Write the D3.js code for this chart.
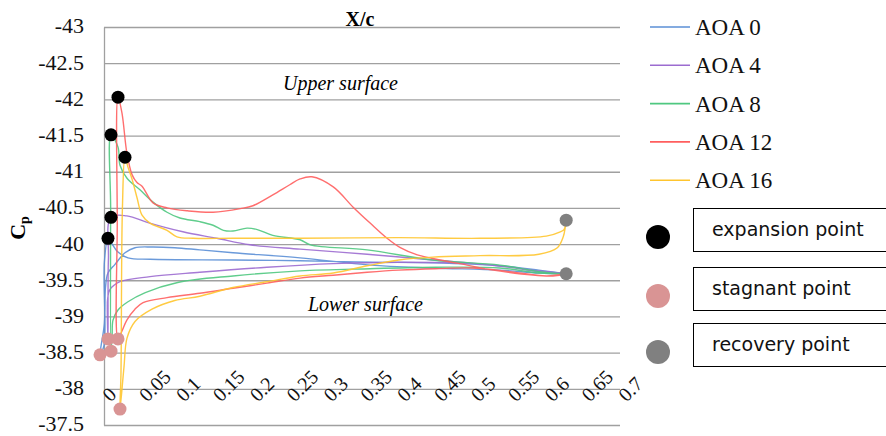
<!DOCTYPE html>
<html>
<meta charset="utf-8">
<title>Cp vs X/c</title>
<style>
	body {
		margin: 0;
		background: #fff;
	}

	.grid line {
		stroke: #a0a0a0;
		stroke-width: 1.3px;
	}

	.grid path {
		stroke: #a0a0a0;
		stroke-width: 1.3px;
	}

	.ytick text {
		font: 22px "Liberation Serif", serif;
		fill: #111;
	}

	.xtick text {
		font: 20px "Liberation Serif", serif;
		fill: #111;
	}

	.curve {
		fill: none;
		stroke-width: 1.4px;
		stroke-opacity: .9;
	}

	.legend text {
		font: 23px "Liberation Serif", serif;
		fill: #111;
	}

	.keybox text {
		font: 19px "DejaVu Sans", sans-serif;
		fill: #111;
	}
</style>

<body>
	<script src="https://cdnjs.cloudflare.com/ajax/libs/d3/7.8.5/d3.min.js"></script>

	<script>
		// values: [x/c, Cp]
		var aoaNames = ["AOA 0", "AOA 4", "AOA 8", "AOA 12", "AOA 16"];

		var aoa0 = [
			[0.627, -39.59], [0.59, -39.64], [0.537, -39.70], [0.446, -39.74], [0.361, -39.75],
			[0.266, -39.77], [0.175, -39.78], [0.0624, -39.79], [0.0326, -39.81], [0.019, -39.89],
			[0.008, -40.05], [0.0054, -40.08], [0.0005, -39.75], [0.0, -38.6], [-0.0054, -38.47],
			[0.0005, -38.9], [0.002, -39.4], [0.0054, -39.6], [0.0149, -39.72], [0.0285, -39.88],
			[0.042, -39.95], [0.065, -39.96], [0.096, -39.95], [0.13, -39.92], [0.175, -39.88],
			[0.266, -39.81], [0.361, -39.71], [0.446, -39.67], [0.537, -39.64], [0.59, -39.6],
			[0.627, -39.59]
		];

		var aoa4 = [
			[0.627, -39.59], [0.59, -39.62], [0.537, -39.70], [0.446, -39.78], [0.357, -39.86],
			[0.266, -39.93], [0.198, -39.99], [0.153, -40.08], [0.107, -40.17], [0.062, -40.29],
			[0.031, -40.39], [0.0095, -40.37], [0.006, -39.8], [0.0054, -38.69], [0.0045, -39.1],
			[0.005, -39.25], [0.008, -39.37], [0.0217, -39.48], [0.0624, -39.55], [0.13, -39.61],
			[0.221, -39.68], [0.311, -39.73], [0.40, -39.75], [0.5, -39.73], [0.59, -39.63],
			[0.627, -39.59]
		];

		var aoa8 = [
			[0.627, -39.59], [0.59, -39.62], [0.537, -39.71], [0.446, -39.78], [0.357, -39.92],
			[0.28, -39.99], [0.266, -40.06], [0.229, -40.12], [0.208, -40.20], [0.194, -40.22],
			[0.175, -40.18], [0.162, -40.19], [0.148, -40.26], [0.130, -40.31], [0.103, -40.36],
			[0.0855, -40.44], [0.0665, -40.58], [0.0488, -40.75], [0.0312, -40.91], [0.0217, -41.09],
			[0.019, -41.34], [0.0095, -41.51], [0.009, -40.5], [0.0095, -38.52], [0.011, -38.75],
			[0.0122, -38.95], [0.019, -39.09], [0.032, -39.2], [0.056, -39.33], [0.1, -39.47],
			[0.175, -39.56], [0.266, -39.63], [0.361, -39.66], [0.45, -39.68], [0.537, -39.67],
			[0.59, -39.6], [0.627, -39.59]
		];

		var aoa12 = [
			[0.627, -39.59], [0.609, -39.56], [0.528, -39.64], [0.4925, -39.71], [0.456, -39.78],
			[0.425, -39.85], [0.402, -39.95], [0.384, -40.08], [0.361, -40.29], [0.338, -40.51],
			[0.311, -40.79], [0.282, -40.93], [0.266, -40.90], [0.252, -40.82], [0.229, -40.68],
			[0.202, -40.53], [0.185, -40.49], [0.148, -40.44], [0.113, -40.46], [0.0855, -40.50],
			[0.0665, -40.57], [0.0516, -40.80], [0.0448, -40.85], [0.038, -40.96], [0.031, -41.26],
			[0.0244, -41.81], [0.019, -42.03], [0.018, -40.3], [0.019, -38.69], [0.0244, -38.8],
			[0.031, -38.95], [0.042, -39.1], [0.053, -39.19], [0.0855, -39.26], [0.13, -39.32],
			[0.175, -39.39], [0.221, -39.46], [0.266, -39.53], [0.311, -39.57], [0.357, -39.61],
			[0.40, -39.64], [0.45, -39.66], [0.50, -39.67], [0.55, -39.62], [0.60, -39.56],
			[0.627, -39.59]
		];

		var aoa16 = [
			[0.627, -40.33], [0.624, -40.2], [0.619, -40.17], [0.60, -40.11], [0.51, -40.08],
			[0.40, -40.09], [0.266, -40.08], [0.175, -40.08], [0.121, -40.08], [0.099, -40.10],
			[0.0855, -40.19], [0.0624, -40.29], [0.0516, -40.40], [0.0448, -40.64], [0.038, -40.9],
			[0.0326, -41.06], [0.0285, -41.2], [0.025, -40.5], [0.023, -38.2], [0.0217, -37.72],
			[0.0271, -38.3], [0.0312, -38.7], [0.0421, -38.93], [0.0651, -39.1], [0.096, -39.22],
			[0.13, -39.28], [0.175, -39.40], [0.221, -39.48], [0.266, -39.56], [0.311, -39.6],
			[0.357, -39.70], [0.40, -39.78], [0.446, -39.82], [0.51, -39.84], [0.59, -39.86],
			[0.615, -39.95], [0.623, -40.1], [0.626, -40.25], [0.627, -40.33]
		];

		var expansionPts = [[0.0054, -40.08], [0.0095, -40.37], [0.0095, -41.51], [0.019, -42.03], [0.0285, -41.2]];
		var stagnantPts = [[-0.0054, -38.47], [0.0054, -38.69], [0.0095, -38.52], [0.019, -38.69], [0.0217, -37.72]];
		var recoveryPts = [[0.627, -40.33], [0.627, -39.59]];

		var cpTicks = [-43, -42.5, -42, -41.5, -41, -40.5, -40, -39.5, -39, -38.5, -38, -37.5];
		var xcTicks = [0, 0.05, 0.1, 0.15, 0.2, 0.25, 0.3, 0.35, 0.4, 0.45, 0.5, 0.55, 0.6, 0.65, 0.7];
		var keyNames = ["expansion point", "stagnant point", "recovery point"];

		var seriesColors = ["#5b8fd6", "#9c6cd0", "#4fc880", "#ff5e5e", "#ffc52e"];
		var keyColors = ["#000", "#d99494", "#808080"];

		var width = 886,
			height = 436;

		var x = d3.scaleLinear().domain([0, 0.7]).range([104, 620]),
			y = d3.scaleLinear().domain([-43, -37.5]).range([27, 425]);

		var svg = d3.select("body").append("svg")
			.attr("width", width)
			.attr("height", height);

		// grid + y axis
		svg.append("g")
			.attr("class", "grid ytick")
			.attr("transform", "translate(" + x(0) + ",0)")
			.call(d3.axisLeft(y)
				.tickValues(cpTicks)
				.tickSize(-(x(0.7) - x(0)))
				.tickSizeOuter(0)
				.tickPadding(20)
				.tickFormat(function (d) { return d; }))
			.call(function (g) {
				g.selectAll("text").attr("dy", "0.27em");
			});

		// x axis labels, sitting on the -38 line
		svg.append("g")
			.attr("class", "xtick")
			.attr("transform", "translate(0," + y(-38) + ")")
			.call(d3.axisBottom(x)
				.tickValues(xcTicks)
				.tickSize(0)
				.tickFormat(function (d) { return +d.toFixed(2); }))
			.call(function (g) {
				g.select(".domain").remove();
				g.selectAll("text")
					.attr("x", 0)
					.attr("y", 0)
					.attr("dy", 0)
					.attr("text-anchor", "start")
					.attr("transform", "translate(6,14) rotate(-45)");
			});

		var line = d3.line()
			.x(function (d) { return x(d[0]); })
			.y(function (d) { return y(d[1]); })
			.curve(d3.curveCatmullRom.alpha(0.5));

		var allSeries = [aoa0, aoa4, aoa8, aoa12, aoa16];

		svg.append("g").selectAll("path")
			.data(allSeries)
			.join("path")
			.attr("class", "curve")
			.attr("d", line)
			.style("stroke", function (d, i) { return seriesColors[i]; });

		// marked points
		[expansionPts, stagnantPts, recoveryPts].forEach(function (pts, k) {
			svg.append("g").selectAll("circle")
				.data(pts)
				.join("circle")
				.attr("cx", function (d) { return x(d[0]); })
				.attr("cy", function (d) { return y(d[1]); })
				.attr("r", 6.5)
				.style("fill", keyColors[k]);
		});

		// titles / annotations
		svg.append("text")
			.attr("x", 360)
			.attr("y", 26)
			.attr("text-anchor", "middle")
			.style("font", "bold 20px 'Liberation Serif', serif")
			.text("X/c");

		var yt = svg.append("text")
			.attr("transform", "translate(25,228) rotate(-90)")
			.attr("text-anchor", "middle")
			.style("font", "bold 22px 'Liberation Serif', serif");
		yt.append("tspan").text("C");
		yt.append("tspan").attr("dy", 4).style("font-size", "14px").text("p");

		svg.append("text")
			.attr("x", 283)
			.attr("y", 90)
			.style("font", "italic 20px 'Liberation Serif', serif")
			.text("Upper surface");

		svg.append("text")
			.attr("x", 308)
			.attr("y", 311)
			.style("font", "italic 20px 'Liberation Serif', serif")
			.text("Lower surface");

		// series legend
		var legend = svg.append("g").attr("class", "legend");
		var lg = legend.selectAll("g")
			.data(aoaNames)
			.join("g")
			.attr("transform", function (d, i) { return "translate(650," + (27 + i * 38.3) + ")"; });
		lg.append("line")
			.attr("x1", 0).attr("x2", 40)
			.style("stroke", function (d, i) { return seriesColors[i]; })
			.style("stroke-width", 1.6);
		lg.append("text")
			.attr("x", 45)
			.attr("y", 8)
			.text(function (d) { return d; });

		// point key boxes
		var boxTop = [208, 267, 323];
		var kb = svg.append("g").attr("class", "keybox").selectAll("g")
			.data(keyNames)
			.join("g")
			.attr("transform", function (d, i) { return "translate(0," + boxTop[i] + ")"; });
		kb.append("circle")
			.attr("cx", 658)
			.attr("cy", 29)
			.attr("r", 12)
			.style("fill", function (d, i) { return keyColors[i]; });
		kb.append("rect")
			.attr("x", 693.5)
			.attr("y", 0.5)
			.attr("width", 200)
			.attr("height", 43)
			.style("fill", "#fff")
			.style("stroke", "#000");
		kb.append("text")
			.attr("x", 712)
			.attr("y", 28)
			.text(function (d) { return d; });
	</script>
</body>
</html>
